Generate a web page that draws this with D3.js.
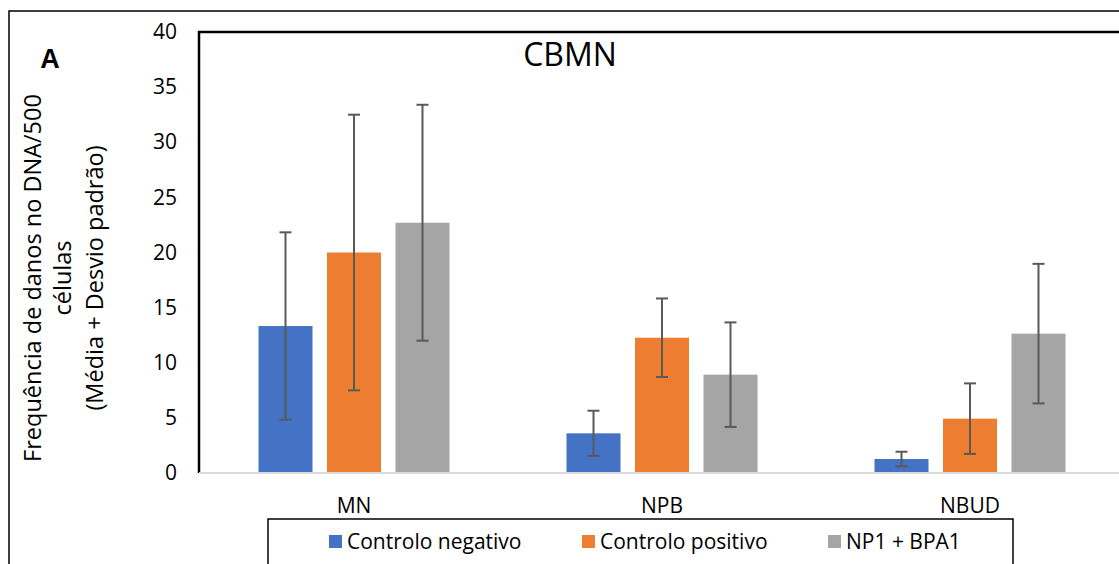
<!DOCTYPE html>
<html><head><meta charset="utf-8">
<script src="https://cdn.jsdelivr.net/npm/d3@7"></script>
<style>body{margin:0;background:#fff;}svg{display:block;font-family:"Open Sans",sans-serif;}</style>
</head><body>
<script>
const categories = ["MN", "NPB", "NBUD"];
const seriesNames = ["Controlo negativo", "Controlo positivo", "NP1 + BPA1"];
const means = [
  [13.33, 3.6, 1.27],
  [20.0, 12.27, 4.93],
  [22.7, 8.92, 12.64]
];
const sds = [
  [8.5, 2.05, 0.66],
  [12.5, 3.56, 3.2],
  [10.7, 4.74, 6.33]
];
const yTicks = [0, 5, 10, 15, 20, 25, 30, 35, 40];
const colors = ["#4472C4", "#ED7D31", "#A5A5A5"];

const W = 1119, H = 564;
const svg = d3.select("body").append("svg").attr("width", W).attr("height", H);

const x0 = 200, x1 = 1124, yTop = 32, yBot = 473;
const x = d3.scaleBand().domain(categories).range([x0, x1]).paddingInner(0).paddingOuter(0);
const y = d3.scaleLinear().domain([0, 40]).range([yBot, yTop]);
const barW = 54, gap = 14.5;

// outer border
svg.append("path").attr("d", `M9,${H+2}V11H${W+2}`).attr("fill","none").attr("stroke","#000").attr("stroke-width",1.5);
// plot frame
svg.append("path").attr("d", `M199,${yBot}V${yTop}H${W+2}`).attr("fill","none").attr("stroke","#000").attr("stroke-width",2.5);

// bars
const g = svg.append("g");
categories.forEach((c, ci) => {
  const cx = x(c) + x.bandwidth() / 2;
  seriesNames.forEach((s, si) => {
    const bx = cx + (si - 1) * (barW + gap) - barW / 2;
    const v = means[si][ci];
    g.append("rect").attr("x", bx).attr("y", y(v)).attr("width", barW).attr("height", y(0) - y(v))
      .attr("fill", colors[si]);
  });
});
// baseline
svg.append("line").attr("x1", 199).attr("x2", W).attr("y1", yBot).attr("y2", yBot).attr("stroke", "#d9d9d9").attr("stroke-width", 2);
// error bars
categories.forEach((c, ci) => {
  const cx = x(c) + x.bandwidth() / 2;
  seriesNames.forEach((s, si) => {
    const ex = cx + (si - 1) * (barW + gap);
    const v = means[si][ci], e = sds[si][ci];
    const eg = g.append("g").attr("stroke", "#595959").attr("stroke-width", 2);
    eg.append("line").attr("x1", ex).attr("x2", ex).attr("y1", y(v + e)).attr("y2", y(v - e));
    [v + e, v - e].forEach(t => eg.append("line").attr("x1", ex - 6).attr("x2", ex + 6).attr("y1", y(t)).attr("y2", y(t)));
  });
});

// y axis tick labels
const yAxis = d3.axisLeft(y).tickValues(yTicks).tickSize(0).tickPadding(0);
const ya = svg.append("g").attr("transform", "translate(177,0)").call(yAxis);
ya.select(".domain").remove();
ya.selectAll("text").attr("font-size", 21).attr("fill", "#000").attr("font-family", '"Open Sans",sans-serif');

// x axis labels
const xAxis = d3.axisBottom(x).tickSize(0).tickPadding(0);
const xa = svg.append("g").attr("transform", "translate(0,498)").call(xAxis);
xa.select(".domain").remove();
xa.selectAll("text").attr("font-size", 21).attr("fill", "#000").attr("font-family", '"Open Sans",sans-serif');

// title
svg.append("text").attr("x", 570).attr("y", 66).attr("text-anchor", "middle").attr("font-size", 32).text("CBMN");
svg.append("text").attr("x", 50).attr("y", 68).attr("text-anchor", "middle").attr("font-size", 27).attr("font-weight", "bold").attr("font-family","Arial, 'Liberation Sans', sans-serif").text("A");

// y label
const yl = svg.append("text").attr("transform", "translate(0,278) rotate(-90)").attr("text-anchor", "middle").attr("font-size", 23.5);
yl.append("tspan").attr("x", 0).attr("y", 41).text("Frequência de danos no DNA/500");
yl.append("tspan").attr("x", 0).attr("y", 71).text("células");
yl.append("tspan").attr("x", 0).attr("y", 103).text("(Média + Desvio padrão)");

// legend
svg.append("rect").attr("x", 268).attr("y", 519).attr("width", 745).attr("height", 46).attr("fill", "#fff").attr("stroke", "#000").attr("stroke-width", 1.5);
const legX = [329, 582, 828];
seriesNames.forEach((s, i) => {
  svg.append("rect").attr("x", legX[i]).attr("y", 535).attr("width", 13).attr("height", 13).attr("fill", colors[i]);
  svg.append("text").attr("x", legX[i] + 18).attr("y", 549).attr("font-size", 21).text(s);
});
</script>
</body></html>
